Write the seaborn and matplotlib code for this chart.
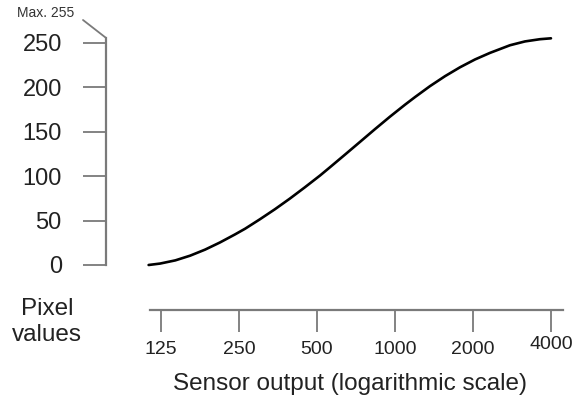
import matplotlib
matplotlib.use("Agg")
import matplotlib.pyplot as plt
import matplotlib.transforms as mtransforms
from matplotlib.ticker import NullLocator, FixedLocator, FixedFormatter
import seaborn as sns
import pandas as pd

# Tone curve: sensor output (log scale) vs. 8-bit pixel value
sensor_output = [112, 124, 142, 162, 185, 211, 241, 264, 301, 344, 393, 449, 514,
                 561, 641, 733, 837, 956, 1093, 1195, 1365, 1560, 1782, 2036, 2326,
                 2779, 3175, 3628, 4000]
pixel_values = [0, 1.6, 5.2, 10.5, 17.3, 25.3, 34.3, 40.8, 51.4, 62.7, 74.7, 87.4,
                100.7, 109.9, 124.1, 138.5, 152.8, 166.8, 180.3, 188.9, 201.2, 212.4,
                222.4, 231.2, 238.6, 247.2, 251.5, 254.0, 255]

x_ticks = [125, 250, 500, 1000, 2000, 4000]
x_tick_labels = ["125", "250", "500", "1000", "2000", "4000"]
y_ticks = [0, 50, 100, 150, 200, 250]
y_max = 255

W, H = 574, 405
sns.set_theme(style="white")
plt.rcParams["font.family"] = ["Liberation Sans", "DejaVu Sans"]

axis_grey = "#7a7a7a"
text_col = "#222222"

fig = plt.figure(figsize=(W / 100, H / 100), dpi=100)
ax = fig.add_axes([0, 0, 1, 1])
ax.set_facecolor("white")

df = pd.DataFrame({"sensor": sensor_output, "pixel": pixel_values})
sns.lineplot(data=df, x="sensor", y="pixel", ax=ax, color="black",
             linewidth=1.9, sort=True, estimator=None,
             solid_joinstyle="round", solid_capstyle="round")

ax.set_xscale("log", base=2)
ax.set_xlim(29.9, 4908)
ax.set_ylim(-157.5, 298.1)
ax.xaxis.set_minor_locator(NullLocator())
ax.xaxis.set_major_locator(FixedLocator(x_ticks))
ax.xaxis.set_major_formatter(FixedFormatter(x_tick_labels))
ax.set_yticks(y_ticks)
ax.set_xlabel("")
ax.set_ylabel("")

for side in ("top", "right"):
    ax.spines[side].set_visible(False)
for side in ("left", "bottom"):
    ax.spines[side].set_color(axis_grey)
    ax.spines[side].set_linewidth(1.6)
ax.spines["left"].set_position(("axes", 105.5 / W))
ax.spines["left"].set_bounds(0, y_max)
ax.spines["bottom"].set_position(("axes", 1 - 310 / H))
ax.spines["bottom"].set_bounds(113, 4450)

ax.tick_params(axis="y", which="major", direction="out", length=16.5, width=1.3,
               color=axis_grey, pad=15, labelsize=17, labelcolor=text_col, left=True)
ax.tick_params(axis="x", which="major", direction="out", length=16, width=1.3,
               color=axis_grey, pad=6, labelsize=14, labelcolor=text_col, bottom=True)

# the last tick label sits a little higher than the rest
fig.canvas.draw()
last = ax.get_xticklabels()[-1]
last.set_transform(last.get_transform() +
                   mtransforms.ScaledTranslation(0, 3 / 72, fig.dpi_scale_trans))

# Leader line from the "Max. 255" note to the top of the value axis
ax.plot([83 / W, 105.5 / W], [1 - 20 / H, 1 - 37.5 / H], transform=ax.transAxes,
        color=axis_grey, linewidth=1.3, clip_on=False)
fig.text(46 / W, 1 - 13 / H, "Max. 255", ha="center", va="center",
         fontsize=10, color="#333333")

fig.text(47 / W, 1 - 322 / H, "Pixel\nvalues", ha="center", va="center",
         fontsize=17.5, color=text_col, linespacing=1.25)
fig.text(350 / W, 1 - 384 / H, "Sensor output (logarithmic scale)", ha="center",
         va="center", fontsize=17.5, color=text_col)

fig.savefig("out.png", dpi=100, facecolor="white")
